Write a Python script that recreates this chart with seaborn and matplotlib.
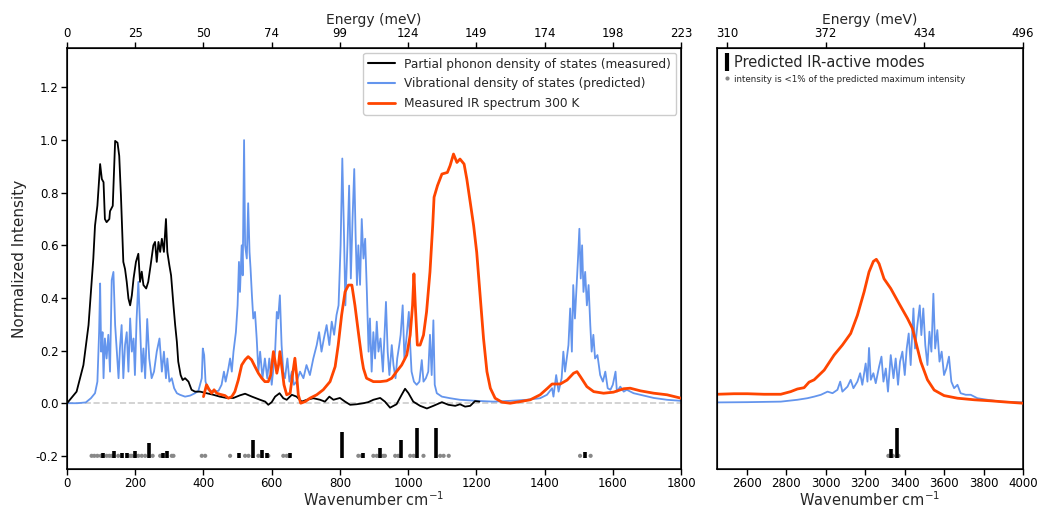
import numpy as np
import pandas as pd
import seaborn as sns
import matplotlib
matplotlib.use("Agg")
import matplotlib.pyplot as plt
from matplotlib.lines import Line2D

# ---------------- data ----------------
# Partial phonon density of states (measured): (wavenumber, intensity)
phonon_dos = [(0, 0), (28, 0.044), (48, 0.145), (63, 0.297), (77, 0.549), (82, 0.675), (89, 0.751),
              (97, 0.909), (102, 0.852), (107, 0.84), (111, 0.70), (116, 0.688), (124, 0.70), (126, 0.73),
              (134, 0.75), (141, 0.997), (148, 0.99), (153, 0.94), (158, 0.79), (165, 0.537), (170, 0.51),
              (175, 0.461), (180, 0.398), (185, 0.372), (190, 0.41), (195, 0.474), (202, 0.537), (209, 0.568),
              (214, 0.461), (219, 0.50), (224, 0.449), (232, 0.436), (238, 0.461), (245, 0.524), (253, 0.60),
              (258, 0.613), (263, 0.537), (268, 0.613), (273, 0.575), (278, 0.625), (284, 0.575), (290, 0.70),
              (294, 0.575), (300, 0.524), (305, 0.486), (312, 0.372), (317, 0.297), (322, 0.233), (326, 0.158),
              (333, 0.107), (339, 0.088), (346, 0.095), (356, 0.082), (365, 0.051), (375, 0.044), (390, 0.044),
              (409, 0.038), (429, 0.032), (448, 0.025), (468, 0.02), (488, 0.02), (507, 0.03), (522, 0.036),
              (542, 0.025), (566, 0.013), (581, 0.006), (590, -0.006), (600, 0.004), (610, 0.025), (623, 0.038),
              (634, 0.019), (644, 0.013), (659, 0.032), (673, 0.025), (688, 0.006), (703, 0.013), (722, 0.019),
              (742, 0.013), (756, 0.006), (769, 0.025), (781, 0.013), (800, 0.02), (815, 0.006), (830, -0.006),
              (849, -0.004), (869, 0.0), (883, 0.004), (898, 0.013), (918, 0.02), (932, 0.006), (947, -0.017),
              (966, -0.004), (981, 0.032), (991, 0.055), (1001, 0.038), (1015, 0.006), (1035, -0.010),
              (1055, -0.02), (1074, -0.01), (1099, 0.004), (1118, -0.006), (1138, -0.01), (1152, -0.004),
              (1167, -0.013), (1182, -0.01), (1196, 0.008), (1209, 0.006)]

# Vibrational density of states (predicted), low-wavenumber panel
vdos_low = [(0, 0), (30, 0.0), (55, 0.003), (70, 0.019), (82, 0.038), (89, 0.082), (94, 0.27), (97, 0.455),
            (100, 0.196), (104, 0.27), (107, 0.095), (111, 0.246), (116, 0.17), (121, 0.26), (126, 0.12),
            (131, 0.468), (136, 0.499), (141, 0.297), (146, 0.196), (151, 0.095), (155, 0.208), (160, 0.297),
            (165, 0.095), (170, 0.221), (175, 0.27), (180, 0.12), (185, 0.322), (190, 0.196), (195, 0.246),
            (199, 0.107), (204, 0.322), (209, 0.461), (214, 0.297), (219, 0.12), (224, 0.208), (229, 0.095),
            (235, 0.32), (241, 0.17), (248, 0.095), (255, 0.12), (263, 0.196), (271, 0.246), (278, 0.12),
            (284, 0.196), (290, 0.095), (294, 0.17), (300, 0.082), (307, 0.095), (314, 0.057), (322, 0.038),
            (331, 0.032), (346, 0.025), (361, 0.029), (375, 0.038), (385, 0.047), (395, 0.095), (398, 0.208),
            (402, 0.183), (406, 0.082), (414, 0.051), (429, 0.044), (444, 0.047), (453, 0.07), (460, 0.12),
            (465, 0.082), (473, 0.132), (478, 0.17), (483, 0.12), (488, 0.196), (495, 0.27), (500, 0.372),
            (504, 0.537), (507, 0.423), (512, 0.60), (515, 0.486), (519, 1.0), (522, 0.60), (527, 0.55),
            (531, 0.76), (535, 0.575), (538, 0.512), (542, 0.41), (546, 0.322), (551, 0.347), (556, 0.246),
            (561, 0.12), (566, 0.196), (573, 0.095), (580, 0.17), (587, 0.095), (593, 0.17), (600, 0.07),
            (610, 0.196), (615, 0.347), (619, 0.322), (624, 0.41), (629, 0.221), (634, 0.12), (639, 0.095),
            (646, 0.17), (652, 0.082), (659, 0.12), (665, 0.07), (673, 0.082), (683, 0.12), (693, 0.095),
            (702, 0.145), (712, 0.107), (722, 0.17), (732, 0.221), (739, 0.27), (746, 0.196), (753, 0.246),
            (761, 0.297), (769, 0.221), (776, 0.31), (783, 0.26), (790, 0.335), (796, 0.372), (802, 0.60),
            (807, 0.93), (812, 0.638), (816, 0.372), (822, 0.60), (827, 0.827), (832, 0.474), (837, 0.70),
            (842, 0.89), (846, 0.638), (850, 0.449), (854, 0.60), (859, 0.45), (864, 0.70), (869, 0.55),
            (874, 0.625), (879, 0.423), (884, 0.196), (888, 0.322), (893, 0.12), (898, 0.27), (903, 0.17),
            (908, 0.31), (913, 0.196), (919, 0.246), (926, 0.12), (931, 0.27), (935, 0.385), (940, 0.196),
            (945, 0.107), (952, 0.221), (957, 0.145), (963, 0.095), (968, 0.17), (974, 0.221), (978, 0.26),
            (984, 0.372), (989, 0.17), (996, 0.26), (1002, 0.347), (1006, 0.221), (1010, 0.12), (1017, 0.082),
            (1025, 0.07), (1033, 0.082), (1040, 0.164), (1045, 0.082), (1052, 0.095), (1059, 0.12),
            (1064, 0.26), (1069, 0.107), (1074, 0.315), (1078, 0.07), (1084, 0.038), (1099, 0.025),
            (1123, 0.019), (1152, 0.013), (1201, 0.009), (1250, 0.006), (1299, 0.009), (1348, 0.013),
            (1387, 0.019), (1407, 0.032), (1422, 0.057), (1426, 0.025), (1434, 0.107), (1441, 0.044),
            (1450, 0.095), (1455, 0.196), (1460, 0.12), (1470, 0.221), (1475, 0.36), (1480, 0.196),
            (1484, 0.449), (1489, 0.322), (1494, 0.449), (1498, 0.55), (1502, 0.663), (1506, 0.474),
            (1510, 0.60), (1514, 0.423), (1519, 0.499), (1524, 0.372), (1529, 0.449), (1534, 0.297),
            (1538, 0.196), (1543, 0.26), (1548, 0.17), (1555, 0.183), (1563, 0.107), (1571, 0.082),
            (1578, 0.12), (1585, 0.057), (1593, 0.051), (1600, 0.07), (1608, 0.12), (1612, 0.044),
            (1622, 0.063), (1632, 0.044), (1641, 0.051), (1661, 0.038), (1690, 0.029), (1720, 0.02),
            (1759, 0.013), (1800, 0.009)]

# Measured IR spectrum 300 K, low-wavenumber panel
ir_low = [(400, 0.025), (409, 0.07), (417, 0.051), (424, 0.038), (431, 0.051), (439, 0.038), (448, 0.034),
          (463, 0.029), (473, 0.019), (483, 0.025), (492, 0.044), (502, 0.088), (512, 0.145), (522, 0.165),
          (531, 0.177), (541, 0.165), (551, 0.139), (561, 0.114), (571, 0.095), (580, 0.082), (590, 0.082),
          (597, 0.107), (605, 0.196), (610, 0.158), (615, 0.114), (620, 0.145), (624, 0.196), (629, 0.145),
          (636, 0.07), (644, 0.032), (654, 0.038), (661, 0.107), (668, 0.171), (673, 0.107), (678, 0.032),
          (685, 0.0), (698, 0.006), (712, 0.019), (732, 0.032), (751, 0.051), (771, 0.082), (786, 0.139),
          (795, 0.221), (805, 0.335), (815, 0.423), (825, 0.449), (835, 0.449), (844, 0.372), (854, 0.27),
          (864, 0.171), (869, 0.132), (878, 0.095), (898, 0.082), (918, 0.082), (937, 0.085), (952, 0.095),
          (966, 0.12), (981, 0.145), (996, 0.183), (1006, 0.259), (1013, 0.372), (1017, 0.492),
          (1021, 0.372), (1027, 0.221), (1035, 0.221), (1045, 0.259), (1054, 0.347), (1064, 0.499),
          (1072, 0.675), (1076, 0.783), (1086, 0.827), (1099, 0.871), (1115, 0.877), (1123, 0.903),
          (1133, 0.947), (1143, 0.915), (1152, 0.928), (1164, 0.909), (1172, 0.852), (1182, 0.764),
          (1192, 0.675), (1201, 0.574), (1211, 0.41), (1221, 0.246), (1231, 0.12), (1241, 0.057),
          (1255, 0.019), (1275, 0.004), (1299, 0.0), (1328, 0.006), (1358, 0.013), (1387, 0.032),
          (1407, 0.055), (1422, 0.073), (1446, 0.073), (1466, 0.088), (1485, 0.114), (1495, 0.12),
          (1505, 0.101), (1524, 0.063), (1544, 0.044), (1573, 0.038), (1602, 0.042), (1632, 0.055),
          (1651, 0.057), (1681, 0.047), (1720, 0.038), (1759, 0.032), (1800, 0.019)]

# High-wavenumber panel
vdos_high = [(2450, 0.003), (2604, 0.004), (2773, 0.006), (2857, 0.013), (2908, 0.019), (2942, 0.025),
             (2976, 0.032), (3010, 0.044), (3035, 0.038), (3060, 0.051), (3074, 0.082), (3085, 0.044),
             (3111, 0.063), (3127, 0.089), (3141, 0.057), (3161, 0.082), (3175, 0.114), (3186, 0.070),
             (3203, 0.151), (3212, 0.082), (3220, 0.21), (3229, 0.089), (3242, 0.114), (3254, 0.076),
             (3271, 0.139), (3283, 0.177), (3293, 0.082), (3305, 0.132), (3316, 0.044), (3330, 0.183),
             (3344, 0.095), (3355, 0.17), (3367, 0.07), (3377, 0.158), (3389, 0.196), (3401, 0.107),
             (3411, 0.208), (3421, 0.265), (3431, 0.145), (3445, 0.36), (3453, 0.208), (3465, 0.297),
             (3477, 0.372), (3485, 0.259), (3495, 0.36), (3505, 0.221), (3516, 0.145), (3526, 0.272),
             (3536, 0.196), (3546, 0.416), (3555, 0.208), (3566, 0.278), (3577, 0.158), (3588, 0.196),
             (3600, 0.107), (3612, 0.132), (3625, 0.177), (3637, 0.082), (3651, 0.057), (3668, 0.07),
             (3684, 0.038), (3710, 0.032), (3735, 0.032), (3769, 0.019), (3820, 0.013), (3887, 0.006),
             (4000, 0.003)]

ir_high = [(2450, 0.034), (2536, 0.036), (2604, 0.036), (2688, 0.034), (2773, 0.034), (2823, 0.044),
           (2857, 0.054), (2891, 0.059), (2916, 0.080), (2942, 0.089), (2993, 0.126), (3043, 0.183),
           (3085, 0.221), (3127, 0.265), (3161, 0.334), (3195, 0.423), (3220, 0.499), (3242, 0.539),
           (3257, 0.547), (3271, 0.53), (3296, 0.473), (3330, 0.436), (3372, 0.379), (3415, 0.322),
           (3440, 0.284), (3457, 0.233), (3482, 0.158), (3516, 0.089), (3550, 0.05), (3600, 0.029),
           (3668, 0.019), (3753, 0.013), (3837, 0.009), (3922, 0.004), (4000, 0.0)]

# Predicted IR-active modes: (wavenumber, relative stick height)
modes_low = [(106, 0.012), (139, 0.018), (162, 0.012), (175, 0.012), (199, 0.018), (241, 0.048),
             (282, 0.012), (292, 0.018), (504, 0.012), (546, 0.059), (572, 0.021), (585, 0.012),
             (654, 0.012), (805, 0.089), (868, 0.012), (917, 0.03), (979, 0.059), (1027, 0.105),
             (1082, 0.105), (1519, 0.013)]
modes_high = [(3330, 0.026), (3361, 0.105)]
# modes with intensity < 1 % of the maximum
weak_modes_low = [72, 80, 89, 99, 116, 124, 131, 150, 185, 190, 209, 219, 229, 251, 273, 307, 312, 395, 405,
                  478, 522, 532, 561, 590, 634, 644, 854, 864, 898, 908, 927, 932, 962, 971, 1006, 1016,
                  1045, 1094, 1104, 1119, 1504, 1535]
weak_modes_high = [3318, 3341, 3369]
mode_baseline = -0.2

# axes ticks / labels
low_ticks = [0, 200, 400, 600, 800, 1000, 1200, 1400, 1600, 1800]
low_energy_labels = ["0", "25", "50", "74", "99", "124", "149", "174", "198", "223"]
high_ticks = [2600, 2800, 3000, 3200, 3400, 3600, 3800, 4000]
high_energy_ticks = [2500, 3000, 3500, 4000]
high_energy_labels = ["310", "372", "434", "496"]
y_ticks = [-0.2, 0.0, 0.2, 0.4, 0.6, 0.8, 1.0, 1.2]

series_labels = ["Partial phonon density of states (measured)",
                 "Vibrational density of states (predicted)",
                 "Measured IR spectrum 300 K"]
C_BLACK, C_BLUE, C_ORANGE = "black", "#6495ED", "#FF4500"

# ---------------- figure ----------------
sns.set_style("ticks")
plt.rcParams['font.family'] = ['DejaVu Sans']
plt.rcParams['axes.edgecolor'] = 'black'
plt.rcParams['xtick.color'] = 'black'
plt.rcParams['ytick.color'] = 'black'

fig = plt.figure(figsize=(10.41, 5.08), dpi=100)
axL = fig.add_axes([0.0644, 0.0768, 0.5898, 0.8287])
axR = fig.add_axes([0.6888, 0.0768, 0.2939, 0.8287])


def draw(ax, pts, color, lw, z):
    df = pd.DataFrame(pts, columns=["x", "y"])
    sns.lineplot(data=df, x="x", y="y", ax=ax, color=color, lw=lw, estimator=None,
                 sort=False, zorder=z, legend=False)


axL.axhline(0, color="#cccccc", ls="--", lw=1.2, zorder=0)
draw(axL, vdos_low, C_BLUE, 1.3, 2)
draw(axL, phonon_dos, C_BLACK, 1.3, 3)
draw(axL, ir_low, C_ORANGE, 2.0, 4)
draw(axR, vdos_high, C_BLUE, 1.3, 2)
draw(axR, ir_high, C_ORANGE, 2.0, 4)

for ax, modes, weak in [(axL, modes_low, weak_modes_low), (axR, modes_high, weak_modes_high)]:
    sns.scatterplot(x=weak, y=[mode_baseline] * len(weak), ax=ax, color="#888888", s=9,
                    edgecolor="none", zorder=5, legend=False)
    mx = [m[0] for m in modes]
    mh = [mode_baseline + m[1] for m in modes]
    ax.vlines(mx, mode_baseline - 0.008, mh, color="black", lw=2.6, zorder=6)

for ax in (axL, axR):
    ax.set_ylim(-0.25, 1.35)
    ax.set_xlabel("Wavenumber cm$^{-1}$", fontsize=10.5, labelpad=0)
    ax.tick_params(axis="both", labelsize=8.5, length=4, width=1, direction="out", pad=2)
    for s in ax.spines.values():
        s.set_linewidth(1.1)
        s.set_visible(True)

axL.set_xlim(0, 1800)
axL.set_xticks(low_ticks)
axL.set_yticks(y_ticks)
axL.set_yticklabels([f"{v:.1f}" for v in y_ticks])
axL.set_ylabel("Normalized Intensity", fontsize=11, labelpad=6)

axR.set_xlim(2450, 4000)
axR.set_xticks(high_ticks)
axR.set_yticks([])
axR.set_ylabel("")

topL = axL.twiny()
topL.set_xlim(axL.get_xlim())
topL.set_xticks(low_ticks)
topL.set_xticklabels(low_energy_labels)
topR = axR.twiny()
topR.set_xlim(axR.get_xlim())
topR.set_xticks(high_energy_ticks)
topR.set_xticklabels(high_energy_labels)
for t in (topL, topR):
    t.set_xlabel("Energy (meV)", fontsize=10, labelpad=2)
    t.tick_params(axis="x", labelsize=8.5, length=4, width=1, direction="out", pad=2)

handles = [Line2D([], [], color=C_BLACK, lw=1.5), Line2D([], [], color=C_BLUE, lw=1.5),
           Line2D([], [], color=C_ORANGE, lw=2.0)]
legL = axL.legend(handles, series_labels, loc="upper right", fontsize=8.7, frameon=True,
                  framealpha=1, edgecolor="#cccccc", borderaxespad=0.4, handlelength=2.2,
                  labelspacing=0.55, borderpad=0.4)

handlesR = [Line2D([], [], color="black", marker="|", ls="None", markersize=13, mew=3),
            Line2D([], [], color="#888888", marker="o", ls="None", markersize=3, mew=0)]
legR = axR.legend(handlesR, ["Predicted IR-active modes",
                             "intensity is <1% of the predicted maximum intensity"],
                  loc="upper left", frameon=False, handlelength=0.4, handletextpad=0.3,
                  borderaxespad=0.3, labelspacing=0.2, borderpad=0.2)
legR.get_texts()[0].set_fontsize(10.5)
legR.get_texts()[1].set_fontsize(6.3)

fig.savefig("out.png", dpi=100)
